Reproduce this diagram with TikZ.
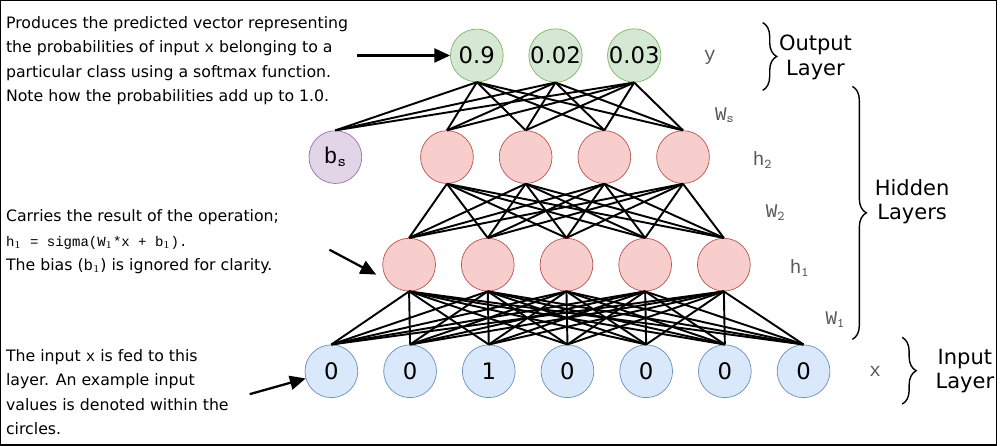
\documentclass[tikz,border=0pt]{standalone}
\usepackage{fontspec}
\setmainfont{DejaVu Sans}
\newfontfamily\mono{Liberation Mono}
\usetikzlibrary{decorations.pathreplacing,arrows.meta}
\definecolor{inF}{HTML}{DAE8FC}\definecolor{inD}{HTML}{6C8EBF}
\definecolor{hF}{HTML}{F8CECC}\definecolor{hD}{HTML}{B85450}
\definecolor{oF}{HTML}{D5E8D4}\definecolor{oD}{HTML}{82B366}
\definecolor{bF}{HTML}{E1D5E7}\definecolor{bD}{HTML}{9673A6}
\begin{document}
\begin{tikzpicture}[x=0.02cm,y=-0.02cm,
  nd/.style={circle,draw,minimum size=1.06cm,inner sep=0pt,font=\fontsize{13}{13}\selectfont},
  inp/.style={nd,fill=inF,draw=inD},
  hid/.style={nd,fill=hF,draw=hD},
  outn/.style={nd,fill=oF,draw=oD},
  bia/.style={nd,fill=bF,draw=bD},
  ed/.style={line width=1.1pt},
  arr/.style={line width=1.3pt,-{Triangle[length=9pt,width=8pt]}},
  lab/.style={font=\mono\fontsize{11}{11}\selectfont,text=black!65},
  txt/.style={anchor=west,font=\fontsize{9}{14}\selectfont,align=left,inner sep=0pt},
  br/.style={decorate,decoration={brace,amplitude=8pt},line width=0.8pt},
  big/.style={font=\fontsize{12}{14}\selectfont,align=center}]
\draw[line width=0.8pt] (0,0) rectangle (1000,446);
\foreach \x [count=\i] in {332,411,490,569,648,727,806} \node[inp] (i\i) at (\x,372) {};
\foreach \i/\v in {1/0,2/0,3/1,4/0,5/0,6/0,7/0} \node at (i\i) {\fontsize{13}{13}\selectfont\v};
\foreach \x [count=\i] in {410,489,568,647,726} \node[hid] (a\i) at (\x,265) {};
\foreach \x [count=\i] in {448,527,606,685} \node[hid] (b\i) at (\x,157) {};
\node[bia] (bs) at (336,157) {\mono b$_{\mathtt{s}}$};
\node[outn] (o1) at (478,55) {0.9};
\node[outn] (o2) at (557,55) {0.02};
\node[outn] (o3) at (636,55) {0.03};
\foreach \i in {1,...,7} \foreach \j in {1,...,5} \draw[ed] (i\i.north) -- (a\j.south);
\foreach \i in {1,...,5} \foreach \j in {1,...,4} \draw[ed] (a\i.north) -- (b\j.south);
\foreach \i in {b1,b2,b3,b4,bs} \foreach \j in {1,2,3} \draw[ed] (\i.north) -- (o\j.south);
\node[lab] at (712,57) {y};
\node[lab] at (727,115) {W$_{\mathtt{s}}$};
\node[lab] at (765,160) {h$_{\mathtt{2}}$};
\node[lab] at (778,213) {W$_{\mathtt{2}}$};
\node[lab] at (802,268) {h$_{\mathtt{1}}$};
\node[lab] at (838,320) {W$_{\mathtt{1}}$};
\node[lab] at (878,372) {x};
\coordinate (ob1) at (765,22); \coordinate (ob2) at (765,90);
\draw[br] (ob1) -- (ob2);
\node[big] at (818,57) {Output\\Layer};
\coordinate (hb1) at (855,86); \coordinate (hb2) at (855,340);
\draw[br] (hb1) -- (hb2);
\node[big] at (915,202) {Hidden\\Layers};
\coordinate (ib1) at (905,338); \coordinate (ib2) at (905,405);
\draw[br] (ib1) -- (ib2);
\node[big] at (968,372) {Input\\Layer};
\node[txt] (t1) at (5,60) {Produces the predicted vector representing\\the probabilities of input {\mono x} belonging to a\\particular class using a softmax function.\\Note how the probabilities add up to 1.0.};
\node[txt] (t2) at (5,242) {Carries the result of the operation;\\{\mono\fontsize{8}{8}\selectfont h$_1$ = sigma(W$_1$*x + b$_1$).}\\The bias ({\mono b$_1$}) is ignored for clarity.};
\node[txt] (t3) at (5,393) {The input {\mono x} is fed to this\\layer. An example input\\values is denoted within the\\circles.};
\coordinate (s1) at (358,55); \draw[arr] (s1) -- (o1);
\coordinate (s2) at (330,250); \coordinate (e2) at (377,275); \draw[arr] (s2) -- (e2);
\coordinate (s3) at (250,395); \draw[arr] (s3) -- (i1);
\end{tikzpicture}
\end{document}
